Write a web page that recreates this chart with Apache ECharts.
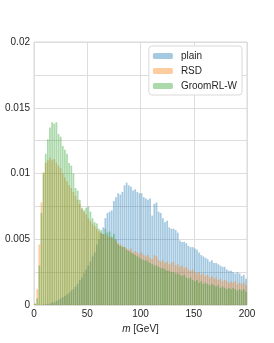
<!DOCTYPE html>
<html><head><meta charset="utf-8">
<script src="https://cdn.jsdelivr.net/npm/echarts@6/dist/echarts.min.js"></script>
<style>html,body{margin:0;padding:0;background:#fff}#c{width:274px;height:343px}</style>
</head><body><div id="c"></div>
<script>
// bin centres (GeV), 2 GeV bins from 0 to 200
const binCenters = [1,3,5,7,9,11,13,15,17,19,21,23,25,27,29,31,33,35,37,39,41,43,45,47,49,51,53,55,57,59,61,63,65,67,69,71,73,75,77,79,81,83,85,87,89,91,93,95,97,99,101,103,105,107,109,111,113,115,117,119,121,123,125,127,129,131,133,135,137,139,141,143,145,147,149,151,153,155,157,159,161,163,165,167,169,171,173,175,177,179,181,183,185,187,189,191,193,195,197,199];
const plainVals = [0,0,0,0,0.00002,0.00005,0.0001,0.0001,0.0002,0.0002,0.0003,0.0004,0.0005,0.0006,0.0007,0.0008,0.0009,0.0011,0.0012,0.0014,0.0016,0.0019,0.0021,0.0024,0.0027,0.0030,0.0033,0.0037,0.0040,0.0046,0.0050,0.0055,0.0059,0.0066,0.0070,0.0071,0.0072,0.0079,0.0082,0.0085,0.0084,0.0086,0.0091,0.0093,0.0091,0.0090,0.0087,0.0088,0.0086,0.0085,0.0085,0.0082,0.0081,0.0080,0.0081,0.0068,0.0077,0.0078,0.0071,0.0070,0.0066,0.0063,0.0064,0.0059,0.0058,0.0058,0.0057,0.0055,0.0049,0.0048,0.0048,0.0047,0.0045,0.0044,0.0044,0.0043,0.0042,0.0040,0.0038,0.0037,0.0036,0.0035,0.0033,0.0034,0.0032,0.0032,0.0031,0.0030,0.0029,0.0029,0.0027,0.0026,0.0026,0.0025,0.0024,0.0025,0.0024,0.0022,0.0023,0.0020];
const rsdVals = [0.0001,0.0012,0.0046,0.0078,0.0101,0.0108,0.0110,0.0112,0.0110,0.0111,0.0108,0.0106,0.0104,0.0100,0.0097,0.0094,0.0091,0.0089,0.0086,0.0083,0.0080,0.0077,0.0073,0.0071,0.0069,0.0066,0.0064,0.0062,0.0060,0.0058,0.0056,0.0055,0.0054,0.0054,0.0052,0.0052,0.0051,0.0050,0.0049,0.0047,0.0046,0.0045,0.0044,0.0043,0.0042,0.0043,0.0040,0.0041,0.0040,0.0039,0.0040,0.0038,0.0037,0.0038,0.0036,0.0035,0.0038,0.0037,0.0034,0.0033,0.0034,0.0032,0.0033,0.0031,0.0032,0.0033,0.0030,0.0031,0.0029,0.0030,0.0028,0.0029,0.0027,0.0026,0.0027,0.0025,0.0024,0.0025,0.0023,0.0024,0.0022,0.0023,0.0021,0.0022,0.0020,0.0021,0.0019,0.0020,0.0018,0.0019,0.0018,0.0017,0.0018,0.0017,0.0018,0.0016,0.0017,0.0016,0.0017,0.0015];
const groomVals = [0.0001,0.0005,0.0030,0.0070,0.0100,0.0115,0.0126,0.0135,0.0139,0.0138,0.0139,0.0130,0.0128,0.0121,0.0118,0.0115,0.0108,0.0106,0.0100,0.0089,0.0087,0.0080,0.0074,0.0072,0.0074,0.0075,0.0071,0.0066,0.0063,0.0062,0.0058,0.0057,0.0054,0.0058,0.0055,0.0056,0.0052,0.0054,0.0050,0.0046,0.0045,0.0044,0.0044,0.0042,0.0041,0.0040,0.0039,0.0038,0.0037,0.0036,0.0035,0.0034,0.0034,0.0033,0.0032,0.0031,0.0030,0.0030,0.0029,0.0028,0.0028,0.0027,0.0026,0.0026,0.0025,0.0025,0.0024,0.0024,0.0023,0.0022,0.0023,0.0021,0.0020,0.0021,0.0019,0.0018,0.0019,0.0017,0.0018,0.0016,0.0017,0.0016,0.0015,0.0016,0.0015,0.0014,0.0015,0.0013,0.0014,0.0013,0.0012,0.0013,0.0012,0.0013,0.0012,0.0011,0.0012,0.0011,0.0012,0.0010];
const seriesNames = ['plain','RSD','GroomRL-W'];
const yTickLabels = {0:'0',0.005:'0.005',0.01:'0.01',0.015:'0.015',0.02:'0.02'};

const colors = ['rgba(31,119,180,0.4)','rgba(255,127,14,0.4)','rgba(44,160,44,0.4)'];
const vals = [plainVals, rsdVals, groomVals];
const font = 'Liberation Sans, Arial, sans-serif';
const tc = '#262626';

const chart = echarts.init(document.getElementById('c'), null, {renderer:'canvas'});
chart.setOption({
  animation:false,
  backgroundColor:'#fff',
  grid:{left:34, right:27, top:42, bottom:38, show:true, borderColor:'#d9d9d9', borderWidth:1},
  legend:{
    data:seriesNames, orient:'vertical', right:32, top:46,
    itemWidth:20, itemHeight:6, itemGap:3,
    padding:[4,5,3,4],
    borderColor:'#d9d9d9', borderWidth:1, borderRadius:3, backgroundColor:'#fff',
    textStyle:{fontFamily:font, fontSize:10, color:tc, padding:[0,0,0,3], lineHeight:12}
  },
  xAxis:{
    type:'value', min:0, max:200, interval:50,
    axisLine:{show:false}, axisTick:{show:false},
    axisLabel:{fontFamily:font, fontSize:10, color:tc, margin:4},
    splitLine:{show:true, lineStyle:{color:'#dddddd', width:1}},
    name:'{i|m} [GeV]', nameLocation:'middle', nameGap:18,
    nameTextStyle:{fontFamily:font, fontSize:10, color:tc, rich:{i:{fontStyle:'italic', fontFamily:font, fontSize:10, color:tc}}}
  },
  yAxis:{
    type:'value', min:0, max:0.02, interval:0.0025,
    axisLine:{show:false}, axisTick:{show:false},
    axisLabel:{fontFamily:font, fontSize:10, color:tc, margin:4,
      formatter:function(v){ const k = Math.round(v*10000)/10000; return yTickLabels[k]!==undefined ? yTickLabels[k] : ''; }},
    splitLine:{show:true, lineStyle:{color:'#dddddd', width:1}}
  },
  series: seriesNames.map((n,i)=>({
    name:n, type:'bar', barGap:'-100%', barWidth:'82%',
    itemStyle:{color:colors[i]},
    data: binCenters.map((c,j)=>[c, vals[i][j]])
  }))
});
</script></body></html>
